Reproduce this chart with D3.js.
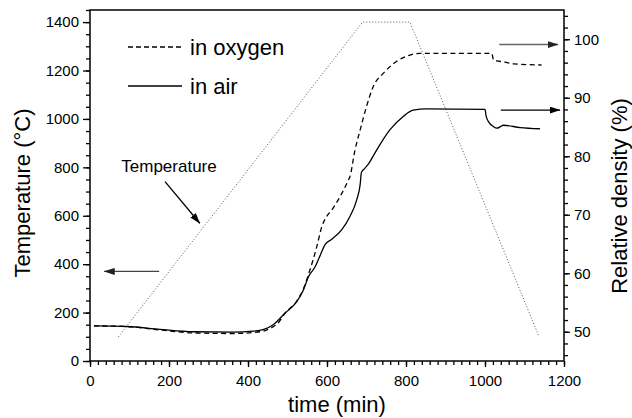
<!DOCTYPE html>
<html><head><meta charset="utf-8">
<script src="https://cdn.jsdelivr.net/npm/d3@7"></script>
<style>
html,body{margin:0;padding:0;background:#fff;}
svg{display:block;font-family:"Liberation Sans",Arial,sans-serif;}
</style></head>
<body>
<svg id="chart" width="632" height="418"></svg>
<script>
// ---- data ----
const tempTime = [72, 690, 810, 1137];
const tempValue = [100, 1400, 1400, 100];

const airTime = [10, 93, 177, 262, 363, 413, 440, 464, 494, 523, 540, 553, 570, 585, 595, 612, 637, 658, 675, 684, 687, 695, 705, 726, 759, 793, 818, 852, 1000, 1003, 1010, 1021, 1030, 1040, 1046, 1089, 1139];
const airDensity = [51.0, 50.9, 50.4, 50.0, 49.95, 50.1, 50.4, 51.2, 53.2, 55.1, 57.1, 59.4, 61.1, 63.4, 64.9, 65.8, 67.4, 69.7, 72.5, 75.2, 77.2, 77.9, 78.7, 81.1, 84.5, 86.8, 87.9, 88.1, 88.0, 86.8, 85.8, 85.1, 84.8, 85.1, 85.3, 84.9, 84.7];

const oxyTime = [10, 93, 177, 262, 363, 430, 460, 475, 494, 523, 540, 557, 574, 587, 599, 612, 633, 654, 658, 671, 684, 700, 717, 743, 776, 810, 835, 1017, 1022, 1030, 1050, 1072, 1143];
const oxyDensity = [51.0, 50.9, 50.3, 49.8, 49.7, 50.0, 50.7, 51.4, 53.2, 55.2, 57.3, 60.6, 64.5, 68.0, 69.7, 70.8, 73.1, 75.9, 76.5, 81.1, 84.5, 88.5, 91.9, 94.2, 96.2, 97.3, 97.6, 97.6, 96.4, 96.3, 96.1, 95.8, 95.6];

const xTicks = [0, 200, 400, 600, 800, 1000, 1200];
const leftTicks = [0, 200, 400, 600, 800, 1000, 1200, 1400];
const rightTicks = [50, 60, 70, 80, 90, 100];
const legendLabels = ["in oxygen", "in air"];
const annotationLabel = "Temperature";
const xTitle = "time (min)";
const leftTitle = "Temperature (\u00B0C)";
const rightTitle = "Relative density (%)";

// ---- layout ----
const L = 90, R = 564, T = 10, B = 361;
const svg = d3.select("#chart");
const x = d3.scaleLinear().domain([0, 1200]).range([L, R]);
const yL = d3.scaleLinear().domain([0, 1450]).range([B, T]);
const yR = d3.scaleLinear().domain([45, 105]).range([B, T]);

const defs = svg.append("defs");
function marker(id, color) {
  defs.append("marker").attr("id", id).attr("viewBox", "0 0 11 7")
    .attr("refX", 10.5).attr("refY", 3.5).attr("markerWidth", 11).attr("markerHeight", 7)
    .attr("markerUnits", "userSpaceOnUse").attr("orient", "auto")
    .append("path").attr("d", "M0,0L11,3.5L0,7Z").attr("fill", color);
}
marker("ah", "#000");
marker("ahg", "#222");

function styleAxis(g, fs) {
  g.select(".domain").remove();
  g.selectAll(".tick line").attr("stroke", "#000").attr("stroke-width", 1.3);
  g.selectAll("text").attr("font-size", fs).attr("fill", "#000")
    .attr("font-family", "'Liberation Sans',Arial,sans-serif");
}
const range = (a, b, s) => d3.range(a, b + s / 2, s);

// minor ticks
svg.append("g").attr("transform", `translate(0,${B})`)
  .call(d3.axisBottom(x).tickValues(range(0, 1200, 20)).tickSize(4).tickFormat(""))
  .call(g => styleAxis(g, 15));
svg.append("g").attr("transform", `translate(${L},0)`)
  .call(d3.axisLeft(yL).tickValues(range(0, 1450, 50)).tickSize(4).tickFormat(""))
  .call(g => styleAxis(g, 15));
svg.append("g").attr("transform", `translate(${R},0)`)
  .call(d3.axisRight(yR).tickValues(range(46, 104, 2)).tickSize(4).tickFormat(""))
  .call(g => styleAxis(g, 15));

// major ticks
svg.append("g").attr("transform", `translate(0,${B})`)
  .call(d3.axisBottom(x).tickValues(xTicks).tickSize(6).tickPadding(8.5).tickFormat(d3.format("d")))
  .call(g => styleAxis(g, 15));
svg.append("g").attr("transform", `translate(${L},0)`)
  .call(d3.axisLeft(yL).tickValues(leftTicks).tickSize(7).tickPadding(4).tickFormat(d3.format("d")))
  .call(g => styleAxis(g, 15));
svg.append("g").attr("transform", `translate(${R},0)`)
  .call(d3.axisRight(yR).tickValues(rightTicks).tickSize(6).tickPadding(4).tickFormat(d3.format("d")))
  .call(g => styleAxis(g, 15));

// frame
svg.append("rect").attr("x", L).attr("y", T).attr("width", R - L).attr("height", B - T)
  .attr("fill", "none").attr("stroke", "#000").attr("stroke-width", 1.5);

// lines
const tempData = tempTime.map((t, i) => [t, tempValue[i]]);
const airData = airTime.map((t, i) => [t, airDensity[i]]);
const oxyData = oxyTime.map((t, i) => [t, oxyDensity[i]]);

const lineL = d3.line().x(d => x(d[0])).y(d => yL(d[1]));
const lineR = d3.line().x(d => x(d[0])).y(d => yR(d[1])).curve(d3.curveMonotoneX);

svg.append("path").datum(tempData).attr("d", lineL)
  .attr("fill", "none").attr("stroke", "#555").attr("stroke-width", 1).attr("stroke-dasharray", "1,2");
svg.append("path").datum(oxyData).attr("d", lineR)
  .attr("fill", "none").attr("stroke", "#000").attr("stroke-width", 1.3).attr("stroke-dasharray", "5,3.5");
svg.append("path").datum(airData).attr("d", lineR)
  .attr("fill", "none").attr("stroke", "#000").attr("stroke-width", 1.3);

// arrows (data coordinates)
function arrow(x1, y1, x2, y2, color, m) {
  svg.append("line").attr("x1", x1).attr("y1", y1).attr("x2", x2).attr("y2", y2)
    .attr("stroke", color).attr("stroke-width", 1.3).attr("marker-end", `url(#${m})`);
}
arrow(x(175), yL(370), x(36), yL(370), "#444", "ahg");
arrow(x(1036), yR(99.1), x(1185), yR(99.1), "#666", "ahg");
arrow(x(1040), yR(87.9), x(1190), yR(87.9), "#000", "ah");
arrow(x(190), yL(741), x(278), yL(569), "#000", "ah");

svg.append("text").attr("x", x(200)).attr("y", yL(782)).attr("text-anchor", "middle")
  .attr("font-size", 17).attr("fill", "#000").text(annotationLabel);

// legend
const legY = [47, 86];
legendLabels.forEach((lab, i) => {
  svg.append("line").attr("x1", 128).attr("x2", 182).attr("y1", legY[i]).attr("y2", legY[i])
    .attr("stroke", "#000").attr("stroke-width", 1.3)
    .attr("stroke-dasharray", i === 0 ? "5,3" : null);
  svg.append("text").attr("x", 190).attr("y", legY[i] + 7.5).attr("font-size", 22)
    .attr("fill", "#000").text(lab);
});

// titles
svg.append("text").attr("x", 337).attr("y", 412).attr("text-anchor", "middle")
  .attr("font-size", 22).attr("fill", "#000").text(xTitle);
svg.append("text").attr("transform", "translate(30,193) rotate(-90)").attr("text-anchor", "middle")
  .attr("font-size", 22).attr("fill", "#000").text(leftTitle);
svg.append("text").attr("transform", "translate(627,196) rotate(-90)").attr("text-anchor", "middle")
  .attr("font-size", 22).attr("fill", "#000").text(rightTitle);
</script>
</body></html>
